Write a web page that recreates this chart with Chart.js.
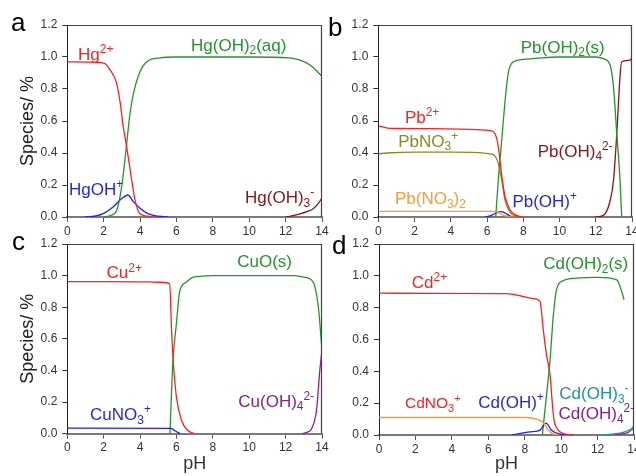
<!DOCTYPE html>
<html><head><meta charset="utf-8">
<script src="https://cdn.jsdelivr.net/npm/chart.js@4/dist/chart.umd.min.js"></script>
<style>
html,body{margin:0;padding:0;background:#fff;width:636px;height:476px;overflow:hidden;}
canvas{position:absolute;}
</style></head><body>
<canvas id="ca" style="left:0px;top:0px" width="330" height="245"></canvas>
<canvas id="cb" style="left:310px;top:0px" width="326" height="245"></canvas>
<canvas id="cc" style="left:0px;top:230px" width="330" height="246"></canvas>
<canvas id="cd" style="left:310px;top:230px" width="326" height="246"></canvas>
<script>
// ---- data: [pH, fraction] ----
const xTicks = [0, 2, 4, 6, 8, 10, 12, 14];
const yTicks = [0, 0.2, 0.4, 0.6, 0.8, 1.0, 1.2];

// Panel a: Hg
const hg2   = [[0,0.97],[1,0.968],[2,0.962],[2.35,0.92],[2.7,0.84],[2.9,0.72],[3.08,0.56],[3.26,0.44],[3.54,0.23],[3.72,0.106],[4.0,0.02],[4.4,0.005],[4.7,0]];
const hgoh2 = [[2.0,0],[2.4,0.01],[2.71,0.04],[2.99,0.19],[3.17,0.36],[3.45,0.65],[3.63,0.77],[4.0,0.91],[4.36,0.97],[5.1,0.995],[6,1.0],[10,1.0],[12.2,0.995],[12.8,0.98],[13.34,0.95],[14,0.88]];
const hgoh  = [[0.97,0],[1.5,0.005],[2,0.023],[2.53,0.064],[3,0.117],[3.32,0.1375],[3.63,0.096],[4,0.055],[4.4,0.023],[5,0.005],[5.55,0]];
const hgoh3 = [[12,0],[12.4,0.008],[12.8,0.02],[13.2,0.035],[13.5,0.05],[13.8,0.085],[14,0.12]];

// Panel b: Pb
const pb2    = [[0,0.569],[0.5,0.556],[1,0.553],[3,0.552],[5,0.548],[6.16,0.54],[6.44,0.52],[6.62,0.44],[6.81,0.26],[6.99,0.13],[7.27,0.044],[7.64,0.01],[8,0]];
const pbno3  = [[0,0.395],[0.5,0.40],[2,0.405],[4,0.405],[5.5,0.402],[6.16,0.395],[6.35,0.39],[6.5,0.37],[6.62,0.335],[6.81,0.23],[6.99,0.106],[7.27,0.03],[7.6,0.005],[7.8,0]];
const pbno32 = [[0,0.035],[6.35,0.035],[6.6,0.03],[6.9,0.012],[7.2,0.003],[7.5,0]];
const pboh   = [[5.9,0],[6.2,0.008],[6.5,0.025],[6.75,0.034],[7.0,0.025],[7.25,0.008],[7.5,0]];
const pboh2s = [[6.48,0],[6.62,0.23],[6.81,0.48],[7.0,0.73],[7.17,0.9],[7.45,0.97],[8,0.985],[9,0.995],[10,1.0],[12,1.0],[12.42,0.99],[12.79,0.95],[12.98,0.81],[13.16,0.52],[13.34,0.23],[13.43,0]];
const pboh4  = [[11.96,0],[12.42,0.01],[12.79,0.1],[12.98,0.23],[13.16,0.52],[13.34,0.88],[13.43,0.97],[13.9,0.98],[14,1.0]];

// Panel c: Cu
const cu2   = [[0,0.962],[2,0.962],[4.5,0.96],[5.0,0.958],[5.63,0.95],[5.73,0.656],[5.86,0.40],[6.0,0.23],[6.27,0.087],[6.63,0.02],[7.0,0]];
const cuno3 = [[0,0.035],[5.7,0.034],[5.9,0.02],[6.2,0]];
const cuos  = [[5.64,0],[5.8,0.445],[6.0,0.7],[6.18,0.90],[6.55,0.96],[6.92,0.99],[8,1.0],[12.5,1.0],[13.0,0.99],[13.5,0.962],[13.8,0.80],[14,0.53]];
const cuoh4 = [[12.88,0],[13.2,0.01],[13.42,0.03],[13.7,0.15],[13.88,0.40],[14,0.53]];

// Panel d: Cd
const cd2    = [[0,0.891],[3,0.89],[7,0.888],[7.92,0.87],[8.47,0.857],[8.84,0.84],[9.02,0.66],[9.2,0.5],[9.39,0.38],[9.5,0.22],[9.6,0.1],[9.75,0.045],[10.0,0.015],[10.6,0]];
const cdno3  = [[0,0.11],[8.1,0.11],[8.66,0.10],[9.0,0.08],[9.3,0.03],[9.57,0.006],[9.9,0]];
const cdoh   = [[7.29,0],[8.3,0.02],[8.84,0.031],[9.17,0.075],[9.48,0.028],[9.94,0.006],[10.67,0]];
const cdoh2s = [[8.97,0],[9.15,0.2],[9.39,0.47],[9.57,0.75],[9.76,0.92],[10.12,0.97],[10.85,0.985],[12,0.99],[13.05,0.975],[13.33,0.90],[13.45,0.85]];
const cdoh3  = [[12.3,0],[13.0,0.008],[13.4,0.017],[13.7,0.03],[13.95,0.05],[14,0.07]];
const cdoh4  = [[12.9,0],[13.4,0.008],[13.7,0.018],[14,0.045]];

// ---- styling ----
const FAM = '"Liberation Sans", Arial, sans-serif';
const C = {red:'#ff1f1f', green:'#22962a', blue:'#1f1fff', dred:'#8c1414', olive:'#8c8a1e', orange:'#ff9a33', purple:'#8c1e8c', teal:'#1e9494'};

function ds(arr, color) {
  return {data: arr.map(p => ({x:p[0], y:p[1]})), borderColor: color, borderWidth: 1.3,
          pointRadius: 0, fill: false, cubicInterpolationMode: 'monotone'};
}

function drawRich(ctx, str, x, y, size, color) {
  const parts = [];
  str.split(/(\^\{[^}]*\}|_\{[^}]*\})/).forEach(p => {
    if (!p) return;
    if (p[0] === '^') parts.push({t:p.slice(2,-1), k:'sup'});
    else if (p[0] === '_') parts.push({t:p.slice(2,-1), k:'sub'});
    else parts.push({t:p, k:'n'});
  });
  let cx = x;
  ctx.fillStyle = color; ctx.textBaseline = 'alphabetic'; ctx.textAlign = 'left';
  for (const p of parts) {
    let fs = size, dy = 0;
    if (p.k === 'sup') { fs = size * 0.7; dy = -size * 0.4; }
    if (p.k === 'sub') { fs = size * 0.7; dy = size * 0.22; }
    ctx.font = fs + 'px ' + FAM;
    ctx.fillText(p.t, cx, y + dy);
    cx += ctx.measureText(p.t).width;
  }
}

const decor = {
  id: 'decor',
  afterDatasetsDraw(chart, args, o) {
    const {ctx, chartArea: a} = chart;
    ctx.save();
    ctx.strokeStyle = '#444'; ctx.lineWidth = 1.2;
    ctx.beginPath();
    ctx.moveTo(a.left, a.top + 0.5); ctx.lineTo(a.right - 0.5, a.top + 0.5); ctx.lineTo(a.right - 0.5, a.bottom);
    ctx.stroke();
    const xs = chart.scales.x, ys = chart.scales.y;
    (o.labels || []).forEach(l => {
      drawRich(ctx, l.t, xs.getPixelForValue(l.x), ys.getPixelForValue(l.y), l.s || 17, l.c);
    });
    if (o.letter) {
      ctx.fillStyle = '#000'; ctx.font = '26px ' + FAM; ctx.textAlign = 'left'; ctx.textBaseline = 'alphabetic';
      ctx.fillText(o.letter.t, o.letter.x, o.letter.y);
    }
    ctx.restore();
  }
};

function makeChart(id, datasets, cfg) {
  return new Chart(document.getElementById(id), {
    type: 'line',
    data: {datasets},
    plugins: [decor],
    options: {
      responsive: false, animation: false, devicePixelRatio: 1,
      layout: {padding: cfg.pad},
      plugins: {legend: {display: false}, tooltip: {enabled: false},
                decor: {labels: cfg.labels, letter: cfg.letter}},
      scales: {
        x: {type: 'linear', min: 0, max: 14,
            afterBuildTicks(s) { s.ticks = xTicks.map(v => ({value: v})); },
            ticks: {color: '#333', font: {size: 12, family: FAM}, padding: 2, maxRotation: 0, autoSkip: false},
            grid: {display: true, drawOnChartArea: false, drawTicks: true, tickLength: 5, color: '#555'},
            border: {display: true, color: '#7a7a7a', width: 2},
            title: {display: !!cfg.xTitle, text: 'pH', color: '#333', font: {size: 18, family: FAM}, padding: {top: 0, bottom: 1}},
            afterFit(s) { s.height = cfg.xh; s.paddingLeft = 0; s.paddingRight = 0; }},
        y: {type: 'linear', min: 0, max: 1.2,
            afterBuildTicks(s) { s.ticks = yTicks.map(v => ({value: v})); },
            ticks: {color: '#333', font: {size: 12, family: FAM}, padding: 5, callback: v => Number(v).toFixed(1)},
            grid: {display: true, drawOnChartArea: false, drawTicks: true, tickLength: 5, color: '#333'},
            border: {display: true, color: '#222', width: 1},
            title: {display: !!cfg.yTitle, text: 'Species/ %', color: '#222', font: {size: 18, family: FAM}, padding: {top: 17, bottom: 4}},
            afterFit(s) { s.width = cfg.yw; s.paddingTop = 0; s.paddingBottom = 0; }}
      }
    }
  });
}

makeChart('ca', [ds(hg2, C.red), ds(hgoh2, C.green), ds(hgoh, C.blue), ds(hgoh3, C.dred)], {
  pad: {top: 25, right: 8, left: 0, bottom: 0}, yw: 67.3, xh: 28, yTitle: true,
  letter: {t: 'a', x: 11, y: 31},
  labels: [
    {t: 'Hg^{2+}', x: 0.59, y: 0.98, c: C.red},
    {t: 'Hg(OH)_{2}(aq)', x: 6.80, y: 1.04, c: C.green},
    {t: 'HgOH^{+}', x: 0.09, y: 0.1375, c: C.blue},
    {t: 'Hg(OH)_{3}^{-}', x: 9.77, y: 0.0875, c: C.dred}
  ]
});
makeChart('cb', [ds(pb2, C.red), ds(pbno3, C.olive), ds(pbno32, C.orange), ds(pboh, C.blue), ds(pboh2s, C.green), ds(pboh4, C.dred)], {
  pad: {top: 25, right: 4, left: 0, bottom: 0}, yw: 68.3, xh: 28,
  letter: {t: 'b', x: 18, y: 36},
  labels: [
    {t: 'Pb^{2+}', x: 1.47, y: 0.586, c: C.red},
    {t: 'PbNO_{3}^{+}', x: 1.10, y: 0.44, c: C.olive},
    {t: 'Pb(NO_{3})_{2}', x: 0.92, y: 0.081, c: C.orange},
    {t: 'Pb(OH)_{2}(s)', x: 7.86, y: 1.027, c: C.green},
    {t: 'Pb(OH)_{4}^{2-}', x: 8.80, y: 0.377, c: C.dred},
    {t: 'Pb(OH)^{+}', x: 7.40, y: 0.061, c: C.blue}
  ]
});
makeChart('cc', [ds(cu2, C.red), ds(cuno3, C.blue), ds(cuos, C.green), ds(cuoh4, C.purple)], {
  pad: {top: 14, right: 8, left: 0, bottom: 0}, yw: 67.3, xh: 42.3, yTitle: true, xTitle: true,
  letter: {t: 'c', x: 12, y: 20},
  labels: [
    {t: 'Cu^{2+}', x: 2.16, y: 0.983, c: C.red},
    {t: 'CuO(s)', x: 9.34, y: 1.053, c: C.green},
    {t: 'CuNO_{3}^{+}', x: 1.25, y: 0.087, c: C.blue},
    {t: 'Cu(OH)_{4}^{2-}', x: 9.40, y: 0.171, c: C.purple}
  ]
});
makeChart('cd', [ds(cd2, C.red), ds(cdno3, C.orange), ds(cdoh, C.blue), ds(cdoh2s, C.green), ds(cdoh3, C.teal), ds(cdoh4, C.purple)], {
  pad: {top: 14, right: 2, left: 0, bottom: 0}, yw: 69, xh: 41, xTitle: true,
  letter: {t: 'd', x: 22, y: 24},
  labels: [
    {t: 'Cd^{2+}', x: 1.80, y: 0.923, c: C.red},
    {t: 'Cd(OH)_{2}(s)', x: 9.02, y: 1.042, c: C.green},
    {t: 'CdNO_{3}^{+}', x: 1.43, y: 0.168, c: C.red, s: 15.5},
    {t: 'Cd(OH)^{+}', x: 5.45, y: 0.168, c: C.blue},
    {t: 'Cd(OH)_{3}^{-}', x: 9.90, y: 0.2245, c: C.teal},
    {t: 'Cd(OH)_{4}^{2-}', x: 9.85, y: 0.099, c: C.purple}
  ]
});
</script>
</body></html>
